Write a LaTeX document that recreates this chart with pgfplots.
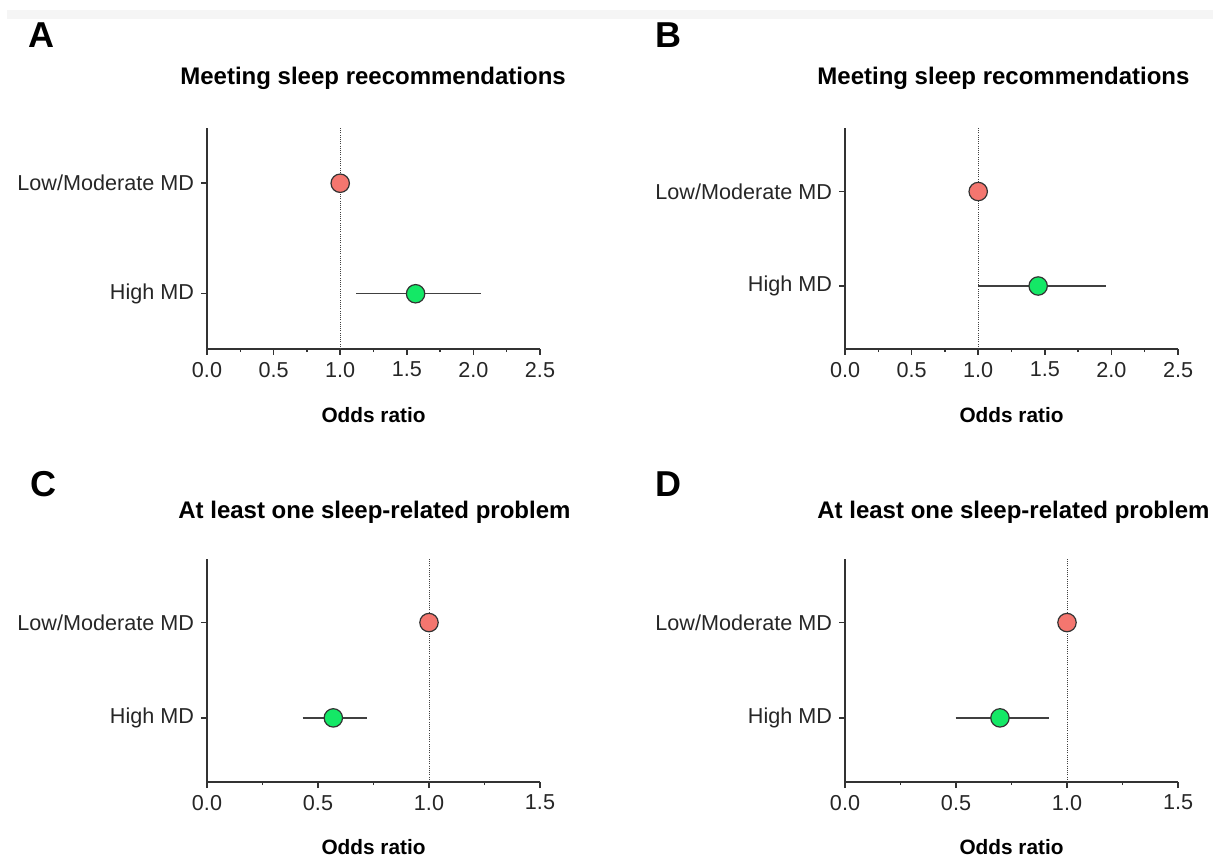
\documentclass[border=0pt]{standalone}
\usepackage{fontspec}
\setmainfont{Liberation Sans}
\usepackage{pgfplots}
\pgfplotsset{compat=1.18}
\definecolor{redpt}{HTML}{F4766F}
\definecolor{greenpt}{HTML}{14E866}
\definecolor{axisgray}{HTML}{333333}
\pgfplotsset{
  forest/.style={
    scale only axis,
    width=166.5pt,
    axis x line=bottom, axis y line=left,
    axis line style={-, axisgray, line width=0.75pt},
    tick align=outside,
    major tick length=3pt, minor tick length=1.6pt,
    tick style={axisgray, line width=0.75pt},
    xmin=0, ymin=0, ymax=4,
    minor x tick num=1,
    /pgf/number format/assume math mode=true,
    ticklabel style={font=\fontsize{10.8}{13}\selectfont, text=black!85},
    clip=false,
  },
  ci/.style={line width=0.75pt, black!75},
  redm/.style={only marks, mark=*, mark size=4.6pt, mark options={fill=redpt, draw=black!80, line width=0.6pt}},
  greenm/.style={only marks, mark=*, mark size=4.6pt, mark options={fill=greenpt, draw=black!80, line width=0.6pt}},
  refline/.style={dash pattern=on 0.5pt off 0.6pt, line width=0.45pt, black!75},
}
\begin{document}
\begin{tikzpicture}
\useasboundingbox (0,0) rectangle (606.5pt,428pt);
\fill[black!4] (3.5pt,423pt) rectangle (606.5pt,418.5pt);

% Panel A
\begin{axis}[forest, at={(103.5pt,253.5pt)}, anchor=south west, height=110.5pt,
  xmax=2.5, xtick={0,0.5,1,1.5,2,2.5}, xticklabels={0.0,0.5,1.0,1.5,2.0,2.5},
  ytick={1,3}, yticklabels={High MD,Low/Moderate MD}]
\addplot[refline] coordinates {(1,0) (1,4)};
\addplot[ci] coordinates {(1.12,1) (2.06,1)};
\addplot[redm] coordinates {(1,3)};
\addplot[greenm] coordinates {(1.566,1)};
\end{axis}

% Panel B
\begin{axis}[forest, at={(422.5pt,253.5pt)}, anchor=south west, height=110.5pt,
  xmax=2.5, xtick={0,0.5,1,1.5,2,2.5}, xticklabels={0.0,0.5,1.0,1.5,2.0,2.5},
  ytick={1.14,2.85}, yticklabels={High MD,Low/Moderate MD}]
\addplot[refline] coordinates {(1,0) (1,4)};
\addplot[ci] coordinates {(1.0,1.14) (1.96,1.14)};
\addplot[redm] coordinates {(1,2.85)};
\addplot[greenm] coordinates {(1.45,1.14)};
\end{axis}

% Panel C
\begin{axis}[forest, at={(103.5pt,37pt)}, anchor=south west, height=111.5pt,
  xmax=1.5, xtick={0,0.5,1,1.5}, xticklabels={0.0,0.5,1.0,1.5},
  ytick={1.15,2.86}, yticklabels={High MD,Low/Moderate MD}]
\addplot[refline] coordinates {(1,0) (1,4)};
\addplot[ci] coordinates {(0.431,1.15) (0.719,1.15)};
\addplot[redm] coordinates {(1,2.86)};
\addplot[greenm] coordinates {(0.569,1.15)};
\end{axis}

% Panel D
\begin{axis}[forest, at={(422.5pt,37pt)}, anchor=south west, height=111.5pt,
  xmax=1.5, xtick={0,0.5,1,1.5}, xticklabels={0.0,0.5,1.0,1.5},
  ytick={1.15,2.86}, yticklabels={High MD,Low/Moderate MD}]
\addplot[refline] coordinates {(1,0) (1,4)};
\addplot[ci] coordinates {(0.498,1.15) (0.92,1.15)};
\addplot[redm] coordinates {(1,2.86)};
\addplot[greenm] coordinates {(0.698,1.15)};
\end{axis}

% Panel letters
\node[anchor=base west, inner sep=0pt, font=\fontsize{18}{21}\selectfont\bfseries] at (14pt,404pt) {A};
\node[anchor=base west, inner sep=0pt, font=\fontsize{18}{21}\selectfont\bfseries] at (327.5pt,404pt) {B};
\node[anchor=base west, inner sep=0pt, font=\fontsize{18}{21}\selectfont\bfseries] at (15pt,179.5pt) {C};
\node[anchor=base west, inner sep=0pt, font=\fontsize{18}{21}\selectfont\bfseries] at (327.5pt,179.5pt) {D};

% Titles
\node[anchor=base west, inner sep=0pt, font=\fontsize{12}{14}\selectfont\bfseries] at (90pt,385.5pt) {Meeting sleep reecommendations};
\node[anchor=base west, inner sep=0pt, font=\fontsize{12}{14}\selectfont\bfseries] at (408.5pt,385.5pt) {Meeting sleep recommendations};
\node[anchor=base west, inner sep=0pt, font=\fontsize{12}{14}\selectfont\bfseries] at (89pt,168.5pt) {At least one sleep-related problem};
\node[anchor=base west, inner sep=0pt, font=\fontsize{12}{14}\selectfont\bfseries] at (408.5pt,168.5pt) {At least one sleep-related problem};

% x labels
\node[anchor=base, inner sep=0pt, font=\fontsize{10.4}{12}\selectfont\bfseries] at (186.75pt,216.5pt) {Odds ratio};
\node[anchor=base, inner sep=0pt, font=\fontsize{10.4}{12}\selectfont\bfseries] at (505.75pt,216.5pt) {Odds ratio};
\node[anchor=base, inner sep=0pt, font=\fontsize{10.4}{12}\selectfont\bfseries] at (186.75pt,1pt) {Odds ratio};
\node[anchor=base, inner sep=0pt, font=\fontsize{10.4}{12}\selectfont\bfseries] at (505.75pt,1pt) {Odds ratio};
\end{tikzpicture}
\end{document}
